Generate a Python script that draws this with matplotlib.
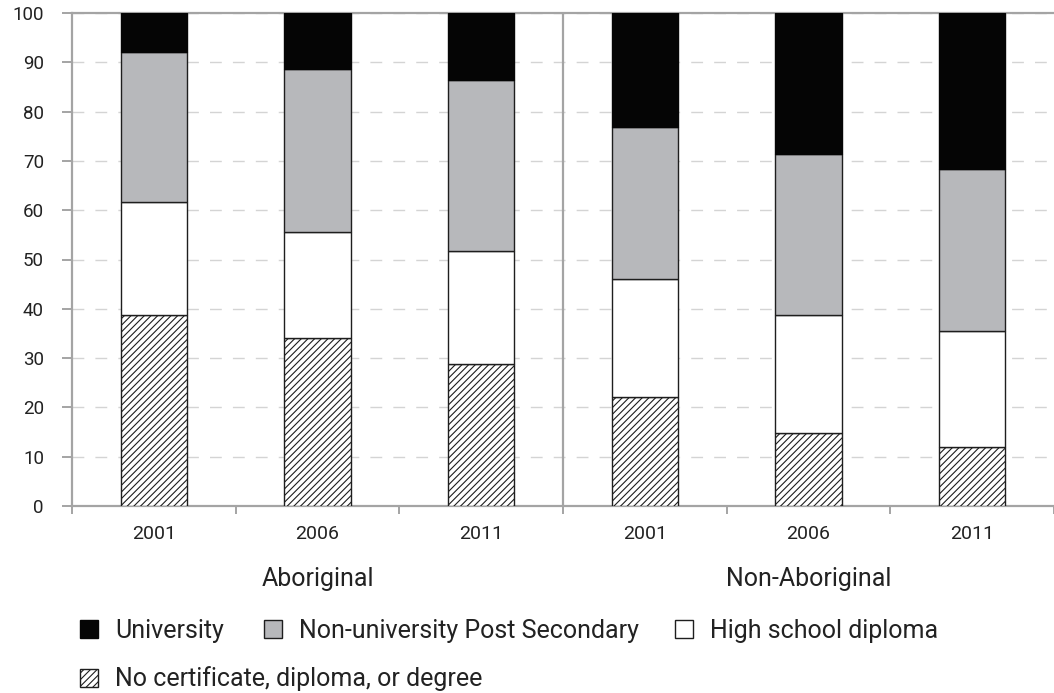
import numpy as np
import matplotlib
matplotlib.use("Agg")
import matplotlib.pyplot as plt
from matplotlib.transforms import blended_transform_factory

plt.rcParams['font.family'] = ['Roboto', 'DejaVu Sans']
plt.rcParams['hatch.linewidth'] = 0.8

# ---- data (percent of population) ----
groups = ["Aboriginal", "Non-Aboriginal"]
years = ["2001", "2006", "2011"]
no_certificate = [38.8, 34.1, 28.8, 22.2, 14.8, 12.0]
high_school = [22.8, 21.4, 22.9, 23.9, 24.0, 23.4]
non_university = [30.5, 33.1, 34.8, 30.8, 32.6, 33.0]
university = [7.9, 11.4, 13.5, 23.1, 28.6, 31.6]

series_labels = ["University", "Non-university Post Secondary",
                 "High school diploma", "No certificate, diploma, or degree"]

W, H = 1054, 693
fig = plt.figure(figsize=(W / 100, H / 100), dpi=100)

left_px, top_px, bottom_px, cat_px = 72, 13, 506, 165
ax = fig.add_axes([left_px / W, 1 - bottom_px / H,
                   (W - left_px) / W, (bottom_px - top_px) / H])

x = np.arange(len(no_certificate))
width = 0.406
edge = '#1e1e1e'
spine_c = '#a4a4a4'
text_c = '#222222'

b0 = np.zeros(len(x))
bars_nc = ax.bar(x, no_certificate, width, bottom=b0, color='white',
                 edgecolor=edge, hatch='/////', linewidth=1.0, zorder=3)
b1 = b0 + np.array(no_certificate)
bars_hs = ax.bar(x, high_school, width, bottom=b1, color='white',
                 edgecolor=edge, linewidth=1.0, zorder=3)
b2 = b1 + np.array(high_school)
bars_nu = ax.bar(x, non_university, width, bottom=b2, color='#b7b8bb',
                 edgecolor=edge, linewidth=1.0, zorder=3)
b3 = b2 + np.array(non_university)
bars_u = ax.bar(x, university, width, bottom=b3, color='#050505',
                edgecolor='#050505', linewidth=1.0, zorder=3)

ax.set_ylim(0, 100)
ax.set_xlim(-0.5, -0.5 + (W - left_px) / cat_px)

# axes frame
for s in ['left', 'top', 'bottom']:
    ax.spines[s].set_color(spine_c)
    ax.spines[s].set_linewidth(1.6)
ax.spines['right'].set_visible(False)
ax.axvline(2.5, color=spine_c, linewidth=1.6, zorder=2)

# grid
ax.set_axisbelow(True)
ax.yaxis.grid(True, color='#d4d4d4', linewidth=1.0, linestyle=(0, (8.5, 8)))

# y axis
ax.set_yticks(np.arange(0, 101, 10))
ax.tick_params(axis='y', length=7.2, width=1.4, color=spine_c, pad=13,
               labelsize=13.5, labelcolor=text_c)

# x axis: boundaries as major ticks, years as minor-tick labels
ax.set_xticks(np.arange(-0.5, 6, 1.0))
ax.set_xticklabels([])
ax.tick_params(axis='x', which='major', length=5.5, width=1.4, color=spine_c)
ax.set_xticks(x, labels=years * 2, minor=True)
ax.tick_params(axis='x', which='minor', length=0, pad=14,
               labelsize=14, labelcolor=text_c)

# group labels
trans = blended_transform_factory(ax.transData, fig.transFigure)
for gx, g in zip([1, 4], groups):
    ax.text(gx, 1 - 586 / H, g, transform=trans, ha='center', va='baseline',
            fontsize=18, color=text_c)

# legend entries
entries = [
    (bars_u, series_labels[0], 80, 631),
    (bars_nu, series_labels[1], 264, 631),
    (bars_hs, series_labels[2], 675, 631),
    (bars_nc, series_labels[3], 80, 679),
]
for handle, label, px, py in entries:
    fig.legend([handle], [label], loc='center left',
               bbox_to_anchor=(px / W, 1 - py / H), frameon=False,
               borderpad=0, borderaxespad=0, fontsize=18,
               handlelength=0.72, handleheight=0.72, handletextpad=0.68,
               labelcolor=text_c)

fig.savefig("out.png", dpi=100)
